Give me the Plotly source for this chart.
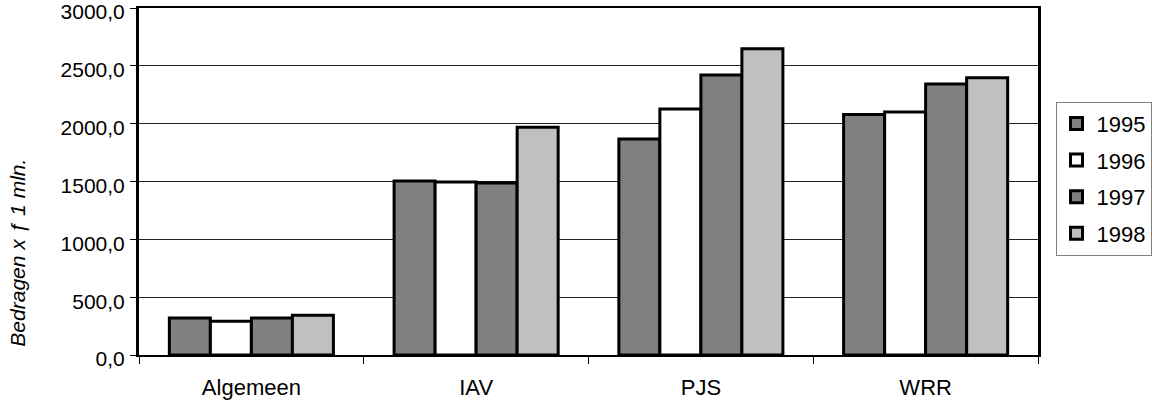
import plotly.graph_objects as go

categories = ["Algemeen", "IAV", "PJS", "WRR"]
years = ["1995", "1996", "1997", "1998"]
v1995 = [320, 1504, 1867, 2080]
v1996 = [292, 1495, 2126, 2100]
v1997 = [320, 1487, 2420, 2342]
v1998 = [343, 1970, 2648, 2397]
series = [v1995, v1996, v1997, v1998]
colors = ["#808080", "#ffffff", "#808080", "#c0c0c0"]
y_ticks = [0, 500, 1000, 1500, 2000, 2500, 3000]

fig = go.Figure()
for name, vals, col in zip(years, series, colors):
    fig.add_trace(go.Bar(
        x=categories, y=vals, name=name, legendgroup=name,
        marker=dict(color=col, line=dict(color="black", width=3)),
    ))

font_family = "Liberation Sans, Arial, sans-serif"
fig.update_layout(
    width=1152, height=405,
    margin=dict(l=139, r=114, t=8, b=50, autoexpand=False),
    paper_bgcolor="white", plot_bgcolor="white",
    separators=",.",
    barmode="group", bargap=0.27, bargroupgap=0,
    font=dict(family=font_family, size=22, color="black"),
    legend=dict(
        x=1.0195, xanchor="left", y=0.73, yanchor="top",
        bordercolor="#808080", borderwidth=1, bgcolor="white",
        font=dict(size=22), tracegroupgap=5, traceorder="grouped",
        itemwidth=30,
    ),
    showlegend=True,
)
fig.update_yaxes(
    range=[0, 3000], tickmode="array", tickvals=y_ticks, tickformat=".1f",
    showgrid=True, gridcolor="#222222", gridwidth=1,
    showline=True, linecolor="black", linewidth=3, mirror=True,
    ticks="outside", ticklen=6, tickcolor="black", tickwidth=1,
    ticklabelstandoff=1, ticklabelshift=4, zeroline=False, automargin=False,
    ticklabeloverflow="allow", tickfont=dict(size=21),
)
fig.update_xaxes(
    type="category", tickson="boundaries",
    showline=True, linecolor="black", linewidth=2, mirror=True,
    ticks="outside", ticklen=7, tickcolor="black", tickwidth=1,
    ticklabelstandoff=12, showgrid=False, automargin=False,
)
fig.add_annotation(
    text="<i>Bedragen x ƒ 1 mln.</i>", xref="paper", yref="paper",
    x=-0.135, y=(355 - 253) / 347, textangle=-90, showarrow=False,
    font=dict(size=21, family=font_family), xanchor="center", yanchor="middle",
)
fig.write_html("out.html", config={"displayModeBar": False},
               post_script="document.body.style.margin='0';")
